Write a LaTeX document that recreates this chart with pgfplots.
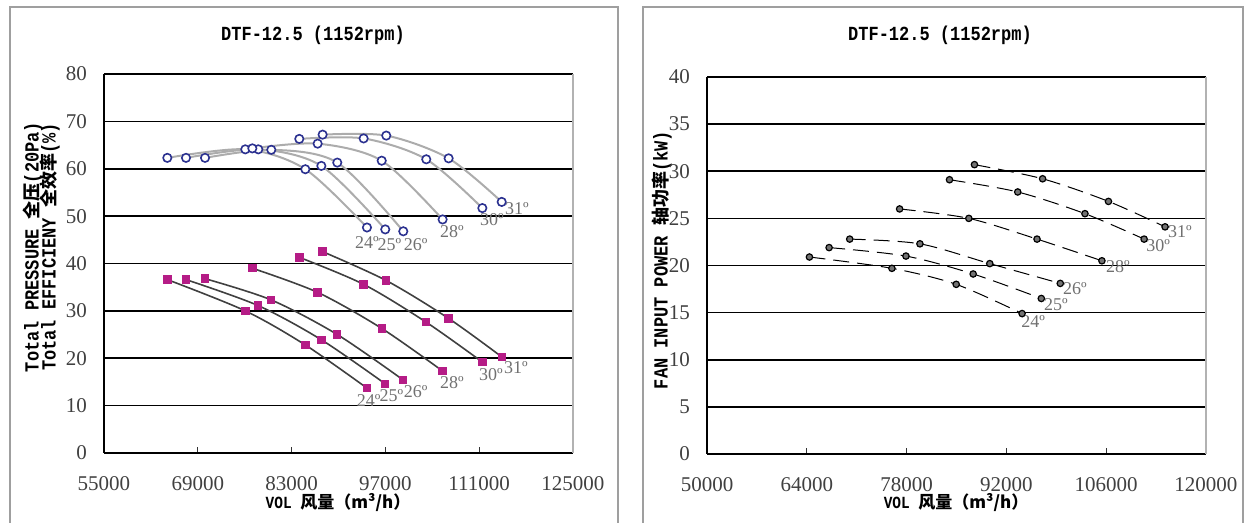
\documentclass[border=0pt]{standalone}
\usepackage{fontspec}
\setmainfont{Liberation Serif}
\newfontfamily\cjk{Noto Sans CJK SC}
\newfontfamily\mono[FakeStretch=0.85]{Liberation Mono}
\usepackage{pgfplots}
\pgfplotsset{compat=1.18}
\definecolor{effblue}{HTML}{2B3190}
\definecolor{pmag}{HTML}{B51C86}
\definecolor{ticktext}{HTML}{404040}
\definecolor{angtext}{HTML}{707070}
\tikzset{ang/.style={text=angtext, font=\fontsize{9}{10}\selectfont, inner sep=0pt}}
\pgfplotsset{
  common/.style={
    scale only axis,
    anchor=south west,
    axis x line*=bottom, axis y line*=left,
    axis line style={black, line width=0.8pt, -},
    ymajorgrids, grid style={black, line width=0.8pt},
    tick align=inside, major tick length=3pt,
    xtick style={black!80, line width=0.6pt},
    ytick style={draw=none},
    scaled x ticks=false, scaled y ticks=false,
    /pgf/number format/assume math mode=true,
    /pgf/number format/fixed,
    /pgf/number format/precision=0,
    /pgf/number format/1000 sep={},
    tick label style={font=\fontsize{10.5}{12}\selectfont, text=ticktext},
    xticklabel style={yshift=-8pt},
    yticklabel style={xshift=-5pt},
    clip=false,
  },
}
\newcommand{\lat}[1]{{\mono\bfseries\fontsize{10}{12}\selectfont #1}}
\newcommand{\han}[1]{{\cjk\bfseries\fontsize{9}{12}\selectfont #1}}
\begin{document}
\begin{tikzpicture}
\path[use as bounding box] (0,0) rectangle (622pt,261.5pt);
\draw[gray!75, line width=0.8pt] (5pt,-1pt)--(5pt,258pt)--(309pt,258pt)--(309pt,-1pt);
\draw[gray!75, line width=0.8pt] (321.5pt,-1pt)--(321.5pt,258pt)--(621.6pt,258pt)--(621.6pt,-1pt);

\node at (156.5pt,244pt) {\mono\bfseries\fontsize{10}{12}\selectfont DTF-12.5 (1152rpm)};
\node at (470pt,244pt) {\mono\bfseries\fontsize{10}{12}\selectfont DTF-12.5 (1152rpm)};

\node[rotate=90, inner sep=0pt] at (16.5pt,138pt) {\lat{Total PRESSURE }\han{全压}\lat{(20Pa)}};
\node[rotate=90, inner sep=0pt] at (25pt,138pt) {\lat{Total EFFICIENY }\han{全效率}\lat{(\%)}};
\node[rotate=90, inner sep=0pt] at (331pt,131.5pt) {\lat{FAN INPUT POWER }\han{轴功率}\lat{(kW)}};

\node at (169pt,10pt) {\fontsize{8.5}{10}\selectfont{\mono\bfseries VOL }{\cjk\bfseries 风量（m³/h）}};
\node at (478pt,10pt) {\fontsize{8.5}{10}\selectfont{\mono\bfseries VOL }{\cjk\bfseries 风量（m³/h）}};

% ---------------- left chart
\begin{axis}[common,
  at={(52pt,35pt)}, width=234.5pt, height=189.5pt,
  xmin=55000, xmax=125000, ymin=0, ymax=80,
  xtick={55000,69000,83000,97000,111000,125000},
  ytick={0,10,20,30,40,50,60,70,80},
]
\draw[black!30, line width=0.8pt] (rel axis cs:1,0)--(rel axis cs:1,1);
% efficiency curves
\pgfplotsset{effl/.style={gray!65, line width=1pt, smooth, mark=*, mark size=2.1pt, mark options={draw=effblue, fill=white, line width=0.8pt}}}
\addplot[effl] coordinates {(64450,62.3) (76090,64.1) (85050,59.9) (94250,47.6)};
\addplot[effl] coordinates {(67240,62.3) (78030,64.1) (87440,60.6) (96980,47.2)};
\addplot[effl] coordinates {(70080,62.3) (79970,64.0) (89820,61.3) (99670,46.8)};
\addplot[effl] coordinates {(77140,64.3) (86890,65.3) (96450,61.7) (105540,49.3)};
\addplot[effl] coordinates {(84150,66.3) (93750,66.4) (103100,62.0) (111470,51.7)};
\addplot[effl] coordinates {(87630,67.2) (97130,67.0) (106440,62.2) (114360,53.0)};
% pressure curves
\pgfplotsset{presl/.style={black!75, line width=0.8pt, smooth, mark=square*, mark size=1.7pt, mark options={draw=pmag, fill=pmag}}}
\addplot[presl] coordinates {(64450,36.6) (76090,30.0) (85050,22.8) (94250,13.7)};
\addplot[presl] coordinates {(67240,36.6) (78030,31.1) (87440,23.9) (96980,14.6)};
\addplot[presl] coordinates {(70080,36.8) (79970,32.3) (89820,25.0) (99670,15.4)};
\addplot[presl] coordinates {(77140,39.0) (86890,33.9) (96450,26.3) (105540,17.3)};
\addplot[presl] coordinates {(84150,41.3) (93750,35.6) (103100,27.6) (111470,19.2)};
\addplot[presl] coordinates {(87630,42.5) (97130,36.4) (106440,28.4) (114360,20.3)};
% labels
\node[ang] at (axis cs:94500,11.0) {24º};
\node[ang] at (axis cs:97900,12.1) {25º};
\node[ang] at (axis cs:101500,12.9) {26º};
\node[ang] at (axis cs:106940,14.8) {28º};
\node[ang] at (axis cs:112760,16.5) {30º};
\node[ang] at (axis cs:116490,18.0) {31º};
\node[ang] at (axis cs:94250,44.4) {24º};
\node[ang] at (axis cs:97600,44.0) {25º};
\node[ang] at (axis cs:101500,44.0) {26º};
\node[ang] at (axis cs:106940,46.7) {28º};
\node[ang] at (axis cs:112910,49.2) {30º};
\node[ang] at (axis cs:116640,51.5) {31º};
\end{axis}

% ---------------- right chart
\begin{axis}[common,
  at={(353.5pt,34.5pt)}, width=249.5pt, height=188.5pt,
  xmin=50000, xmax=120000, ymin=0, ymax=40,
  xtick={50000,64000,78000,92000,106000,120000},
  ytick={0,5,10,15,20,25,30,35,40},
]
\draw[black!30, line width=0.8pt] (rel axis cs:1,0)--(rel axis cs:1,1);
\pgfplotsset{powl/.style={black, line width=0.5pt, smooth, dash pattern=on 8pt off 4pt, mark=*, mark size=1.6pt, mark options={solid, draw=black, fill=black!55, line width=0.6pt}}}
\addplot[powl] coordinates {(64370,20.9) (75940,19.7) (84960,18.0) (94200,14.9)};
\addplot[powl] coordinates {(67130,21.9) (77910,21.0) (87340,19.1) (96900,16.5)};
\addplot[powl] coordinates {(70020,22.8) (79870,22.3) (89670,20.2) (99560,18.1)};
\addplot[powl] coordinates {(77020,26.0) (86730,25.0) (96300,22.8) (105400,20.5)};
\addplot[powl] coordinates {(84020,29.1) (93590,27.8) (103020,25.5) (111320,22.8)};
\addplot[powl] coordinates {(87520,30.7) (97080,29.2) (106320,26.8) (114260,24.1)};
\node[ang] at (axis cs:116360,23.6) {31º};
\node[ang] at (axis cs:113280,22.1) {30º};
\node[ang] at (axis cs:107660,19.9) {28º};
\node[ang] at (axis cs:101630,17.5) {26º};
\node[ang] at (axis cs:98960,15.9) {25º};
\node[ang] at (axis cs:95740,14.1) {24º};
\end{axis}
\end{tikzpicture}
\end{document}
